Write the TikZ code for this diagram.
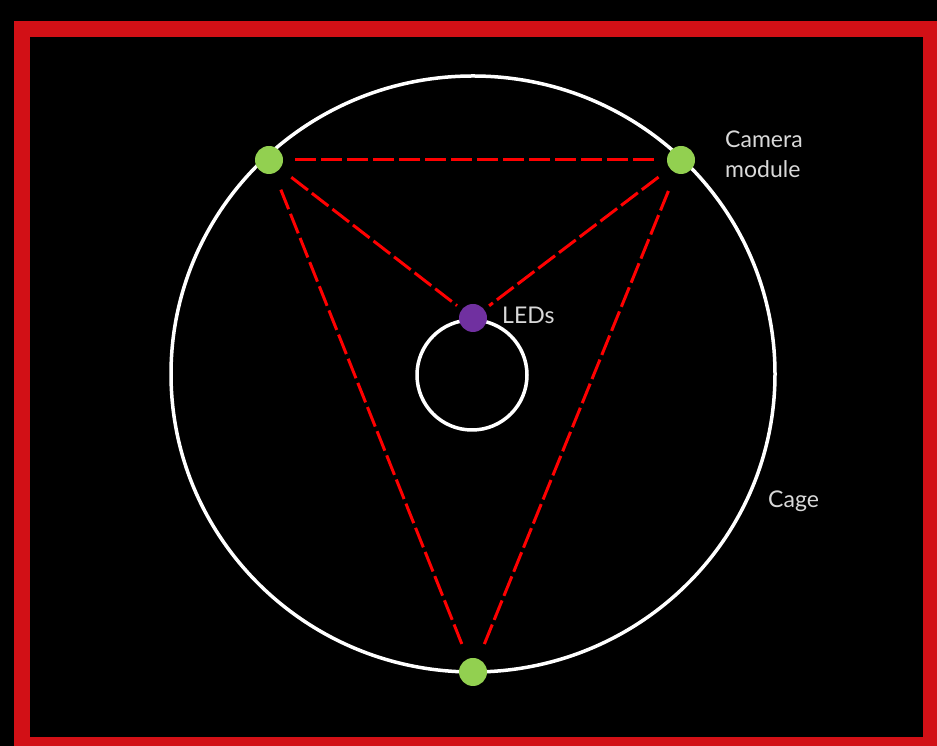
\documentclass[tikz,border=0pt]{standalone}
\usepackage{fontspec}
\usetikzlibrary{shapes.geometric}
\setmainfont{Lato}
\definecolor{framered}{HTML}{D21016}
\definecolor{camgreen}{HTML}{92D050}
\definecolor{ledpurple}{HTML}{7030A0}
\definecolor{labelgray}{HTML}{D9D9D9}
\tikzset{
  camdot/.style={circle, fill=camgreen, minimum size=28pt, inner sep=0pt},
  leddot/.style={circle, fill=ledpurple, minimum size=28pt, inner sep=0pt},
  ring/.style={draw=white, line width=3.5pt},
  ray/.style={draw=red, line width=3pt, dash pattern=on 21pt off 5pt},
  lbl/.style={text=labelgray, font=\fontsize{23pt}{30pt}\selectfont, inner sep=0pt, anchor=west, align=left}
}
\begin{document}
\begin{tikzpicture}[x=1pt,y=1pt]
\useasboundingbox (0,0) rectangle (937,746);
\clip (0,0) rectangle (937,746);
\fill[black] (0,0) rectangle (937,746);
\draw[framered, line width=16pt] (22,717) rectangle (931,1);
% cage and inner ring
\node[ring, ellipse, minimum width=604pt, minimum height=596pt, inner sep=0pt] (cage) at (473,372) {};
\node[ring, circle, minimum size=110pt, inner sep=0pt] (inner) at (472,371) {};
% dots
\node[camdot] (camL) at (269,586) {};
\node[camdot] (camR) at (681,586) {};
\node[camdot] (camB) at (473,74) {};
\node[leddot] (led) at (473,428) {};
% dashed rays
\draw[ray, shorten <=12pt, shorten >=12pt] (camL) -- (camR);
\draw[ray, shorten <=14pt, shorten >=6pt] (camL) -- (led);
\draw[ray, shorten <=14pt, shorten >=6pt] (camR) -- (led);
\draw[ray, shorten <=16pt, shorten >=16pt] (camB) -- (camL);
\draw[ray, shorten <=16pt, shorten >=16pt] (camB) -- (camR);
% labels
\node[lbl] (lcam) at (725,592) {Camera\\module};
\node[lbl] (lled) at (502,431) {LEDs};
\node[lbl] (lcage) at (768,245) {Cage};
\end{tikzpicture}
\end{document}
